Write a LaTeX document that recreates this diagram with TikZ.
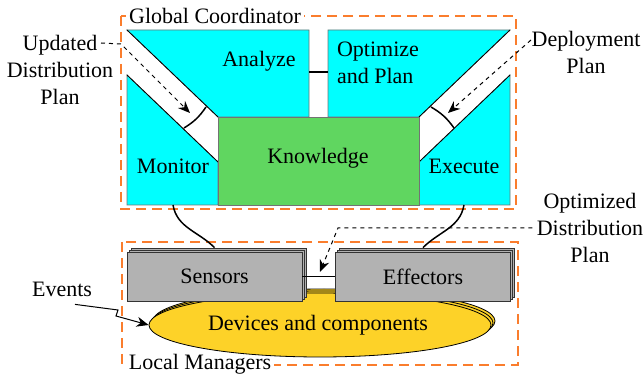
\documentclass[tikz,border=0pt]{standalone}
\usepackage{fontspec}
\setmainfont{Liberation Serif}
\usepackage{xcolor}
\usepackage{tikz}
\usetikzlibrary{arrows.meta, positioning, calc, shapes, shadows}

\definecolor{mapecyan}{RGB}{0,255,255}
\definecolor{knowgreen}{RGB}{96,214,96}
\definecolor{boxgray}{RGB}{178,178,178}
\definecolor{devyellow}{RGB}{253,210,40}
\definecolor{mgrorange}{RGB}{250,125,45}

\begin{document}
\begin{tikzpicture}[
    x=0.5pt, y=0.5pt,
    >=Stealth,
    font=\rmfamily\fontsize{11}{13.5}\selectfont,
    cell/.style={fill=mapecyan, draw=black!55, line width=0.4pt},
    edge/.style={draw=black, line width=0.4pt},
    region/.style={draw=mgrorange, line width=0.9pt, dash pattern=on 5pt off 3pt},
    regionlabel/.style={fill=white, inner sep=1.5pt},
    layer/.style={draw=black!80, fill=boxgray, rectangle, inner sep=0pt, minimum width=87.5pt, minimum height=24.5pt,
        double copy shadow={shadow xshift=1pt, shadow yshift=1pt, fill=boxgray, draw=black!80}},
    link/.style={draw=black, line width=0.75pt},
    plan/.style={dashed, line width=0.5pt, dash pattern=on 2pt off 2pt, -{Stealth[length=6pt, width=5pt]}},
    note/.style={align=center, inner sep=2pt}
]
    \useasboundingbox (0,0) rectangle (644,-379);

    % --- Regions ---
    \draw[region] (121,-16) rectangle (516,-209);
    \draw[region] (122,-242) rectangle (518,-365);
    \node[regionlabel] (global) at (215,-16) {Global Coordinator};
    \node[regionlabel] (local) at (200,-364) {Local Managers};

    % --- MAPE cells ---
    \filldraw[cell] (127,-30) -- (309,-30) -- (309,-117) -- (218,-117) -- cycle;
    \filldraw[cell] (127,-75) -- (218,-162) -- (218,-205) -- (127,-205) -- cycle;
    \filldraw[cell] (328,-30) -- (510,-30) -- (419,-117) -- (328,-117) -- cycle;
    \filldraw[cell] (510,-75) -- (510,-205) -- (419,-205) -- (419,-162) -- cycle;
    \draw[edge] (127,-30) -- (218,-117);
    \draw[edge] (127,-75) -- (218,-162);
    \draw[edge] (510,-30) -- (419,-117);
    \draw[edge] (510,-75) -- (419,-162);

    \node[draw=black!55, fill=knowgreen, inner sep=0pt, minimum width=100.5pt, minimum height=44pt]
        (knowledge) at (318.5,-161) {};
    \node (knowtext) at (318,-158) {Knowledge};
    \node (analyze) at (259,-61) {Analyze};
    \node[align=left] (optimize) at (378,-63) {Optimize\\and Plan};
    \node (monitor) at (173,-166) {Monitor};
    \node (execute) at (464,-166) {Execute};

    % --- Channels ---
    \coordinate (ma-a) at (184,-128);
    \coordinate (ma-b) at (206,-107);
    \coordinate (ap-a) at (309,-72);
    \coordinate (ap-b) at (328,-72);
    \coordinate (pe-a) at (431,-107);
    \coordinate (pe-b) at (454,-128);
    \draw[link] (ma-a) to[bend right=12] (ma-b);
    \draw[link] (ap-a) -- (ap-b);
    \draw[link] (pe-a) to[bend left=12] (pe-b);

    % --- Local managers ---
    \node[ellipse, draw=black, fill=devyellow, inner sep=0pt, minimum width=171pt, minimum height=32pt,
        double copy shadow={shadow xshift=1pt, shadow yshift=1pt, fill=devyellow, draw=black}]
        (devices) at (320,-325) {};
    \node (devtext) at (318,-325) {Devices and components};
    \node[layer] (sensors) at (214.5,-276.5) {Sensors};
    \node[layer] (effectors) at (423,-276.5) {Effectors};
    \draw[link] (sensors.east) -- (effectors.west);

    % --- Monitor / Execute links ---
    \coordinate (monitor-s) at (173,-205);
    \coordinate (execute-s) at (464,-205);
    \draw[link] (monitor-s) to[out=-80, in=135] ([yshift=2pt]sensors.north);
    \draw[link] (execute-s) to[out=-100, in=45] ([yshift=2pt]effectors.north);

    % --- Plans ---
    \node[note] (updated) at (60,-70) {Updated\\Distribution\\Plan};
    \node[note] (deploy) at (586,-52) {Deployment\\Plan};
    \node[note] (optimized) at (590,-228) {Optimized\\Distribution\\Plan};
    \coordinate (upd-out) at (101,-43);
    \coordinate (dep-out) at (531,-40);
    \draw[plan] (upd-out) -- (121,-44) -- (190,-113);
    \draw[plan] (dep-out) -- (448,-113);
    \draw[plan] (optimized.west) -- (338,-228) -- (320,-272);

    % --- Events ---
    \node (events) at (62,-289) {Events};
    \draw[-{Stealth[length=6pt, width=5pt]}, line width=0.5pt] ($(events.south)+(13,-1)$) -- (118,-310) -- (116,-316) -- (devices.west);

\end{tikzpicture}
\end{document}
